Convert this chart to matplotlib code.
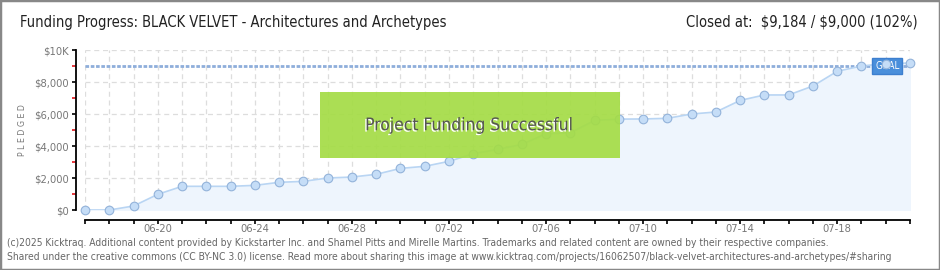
import matplotlib.pyplot as plt
import matplotlib.patheffects as pe
from matplotlib.patches import Rectangle
import numpy as np

# daily pledged totals, 06-17 .. 07-21
dates = ['06-17', '06-18', '06-19', '06-20', '06-21', '06-22', '06-23', '06-24',
         '06-25', '06-26', '06-27', '06-28', '06-29', '06-30', '07-01', '07-02',
         '07-03', '07-04', '07-05', '07-06', '07-07', '07-08', '07-09', '07-10',
         '07-11', '07-12', '07-13', '07-14', '07-15', '07-16', '07-17', '07-18',
         '07-19', '07-20', '07-21']
pledged = [0, 0, 250, 980, 1480, 1480, 1480, 1540, 1730, 1790, 2000, 2060, 2230,
           2600, 2730, 3040, 3520, 3790, 4100, 4770, 4830, 5600, 5680, 5690, 5730,
           6000, 6125, 6850, 7190, 7190, 7750, 8670, 9000, 9150, 9184]
goal = 9000
yticks = [0, 2000, 4000, 6000, 8000, 10000]
ytick_labels = ['$0', '$2,000', '$4,000', '$6,000', '$8,000', '$10K']

plt.rcParams['font.family'] = ['DejaVu Sans']
plt.rcParams['font.stretch'] = 'condensed'
plt.rcParams['hatch.color'] = '#b0e25a'
plt.rcParams['hatch.linewidth'] = 0.6

W, H = 940, 270
fig = plt.figure(figsize=(W / 100, H / 100), dpi=100)
ax = fig.add_axes([85 / W, (H - 210) / H, 825 / W, 160 / H])

x = np.arange(len(dates))
ax.fill_between(x, pledged, 0, color='#eef5fd', zorder=1)
ax.plot(x, pledged, color='#b9d5f3', lw=1.2, zorder=3)
ax.plot(x, pledged, 'o', ms=6.2, mfc='#c5ddf7', mec='#93b3da', mew=0.8,
        zorder=5, clip_on=False)
ax.axhline(goal, color='#8eaedb', lw=2, ls=(0, (1.3, 0.6)), zorder=2)

ax.set_xlim(0, len(dates) - 1)
ax.set_ylim(0, 10000)
ax.set_xticks(x)
ax.set_xticklabels([d if i % 4 == 3 else '' for i, d in enumerate(dates)])
ax.set_yticks(yticks)
ax.set_yticklabels(ytick_labels)
ax.set_yticks(range(1000, 10000, 2000), minor=True)
ax.tick_params(axis='y', which='major', length=3, width=1.2, color='black',
               labelsize=8, labelcolor='#777', pad=2)
ax.tick_params(axis='y', which='minor', length=3, width=1.2, color='#e0151b')
ax.tick_params(axis='x', length=3, width=1.2, color='black', labelsize=8,
               labelcolor='#777', pad=0)
ax.grid(True, color='#dddddd', ls=(0, (4, 3)), lw=0.9)
ax.set_axisbelow(True)
for s in ['top', 'right']:
    ax.spines[s].set_visible(False)
ax.spines['left'].set_position(('outward', 6.5))
ax.spines['bottom'].set_position(('outward', 7.2))
ax.spines['left'].set_linewidth(1.3)
ax.spines['bottom'].set_linewidth(1.3)
ax.set_ylabel('P L E D G E D', fontsize=6.3, color='#777', labelpad=5)

# success banner
ax.add_patch(Rectangle((0.285, 0.325), 0.363, 0.4125, transform=ax.transAxes,
                       facecolor='#a4dc45', edgecolor='none', alpha=0.92,
                       hatch='//////', zorder=6))
ax.text(0.466, 0.53, 'Project Funding Successful', transform=ax.transAxes,
        ha='center', va='center', fontsize=12.5, color='#555555', zorder=7,
        path_effects=[pe.withSimplePatchShadow(offset=(-1, -1), shadow_rgbFace='white', alpha=1)])

# goal tag
ax.text(0.9725, 0.9, 'GOAL', transform=ax.transAxes, ha='center', va='center',
        fontsize=7, color='white', zorder=4,
        bbox=dict(boxstyle='square,pad=0.3', fc='#4a8fdb', ec='#3d7fcf'))

fig.text(20 / W, 1 - 22 / H, 'Funding Progress: BLACK VELVET - Architectures and Archetypes',
         fontsize=10.5, color='#222', va='center')
fig.text(918 / W, 1 - 22 / H, 'Closed at:  \\$9,184 / \\$9,000 (102%)',
         fontsize=10.5, color='#222', va='center', ha='right')
fig.text(7 / W, 1 - 243 / H,
         '(c)2025 Kicktraq. Additional content provided by Kickstarter Inc. and Shamel Pitts and Mirelle Martins. '
         'Trademarks and related content are owned by their respective companies.',
         fontsize=7.4, color='#666', va='center')
fig.text(7 / W, 1 - 257 / H,
         'Shared under the creative commons (CC BY-NC 3.0) license. Read more about sharing this image at '
         'www.kicktraq.com/projects/16062507/black-velvet-architectures-and-archetypes/#sharing',
         fontsize=7.4, color='#666', va='center')

fig.add_artist(Rectangle((0, 0), 1, 1, transform=fig.transFigure, fill=False,
                         ec='#888', lw=2.5))

fig.savefig('out.png', dpi=100)
